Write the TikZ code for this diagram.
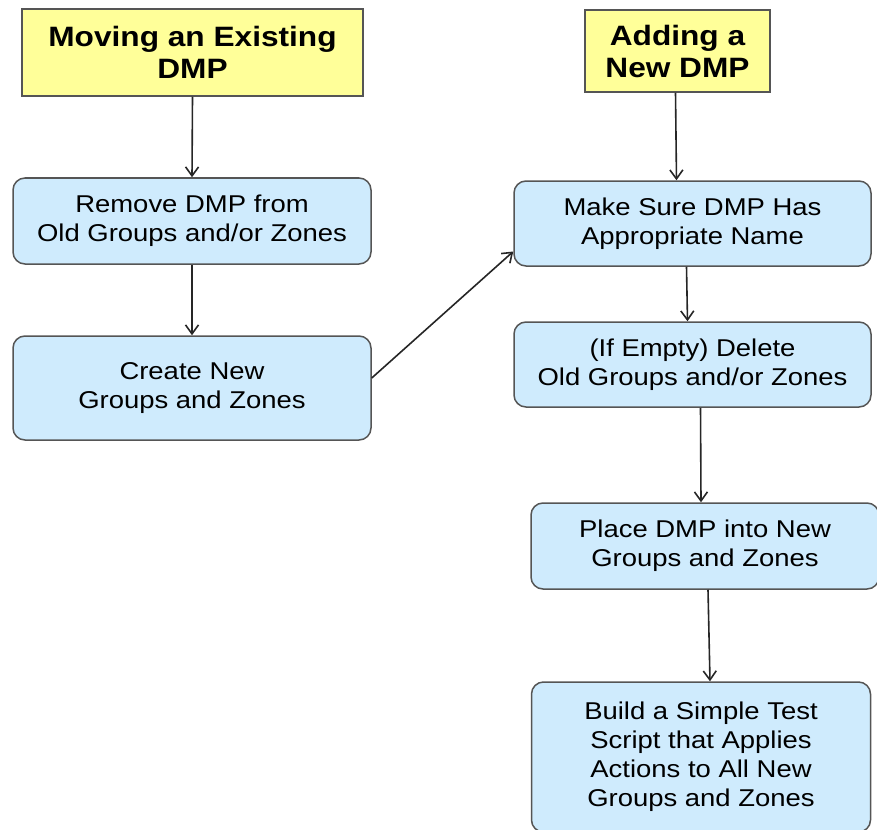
\documentclass[tikz,border=0pt]{standalone}
\usepackage{fontspec}
\setmainfont{Liberation Sans}
\newfontfamily\widefont[FakeStretch=1.13]{Liberation Sans}
\usetikzlibrary{arrows.meta}
\definecolor{titleyellow}{HTML}{FFFF99}
\definecolor{stepblue}{HTML}{CFEBFD}
\definecolor{edgegray}{HTML}{555555}
\begin{document}
\begin{tikzpicture}[x=1pt,y=-1pt,
  title/.style={draw=edgegray,fill=titleyellow,line width=1.5pt,inner sep=0pt,
    align=center,font=\widefont\fontsize{28}{32}\selectfont\bfseries},
  stepbox/.style={draw=edgegray,fill=stepblue,line width=1.5pt,rounded corners=12pt,
    inner sep=0pt,align=center,font=\widefont\fontsize{24.3}{29}\selectfont},
  flow/.style={-{Straight Barb[length=9pt,width=13pt]},line width=1.6pt,black!85}]
\useasboundingbox (0,0) rectangle (877,829);
% Left column: moving an existing DMP
\node[title,minimum width=341pt,minimum height=87pt] (moving) at (192.5,52.5) {Moving an Existing\\DMP};
\node[stepbox,minimum width=358pt,minimum height=86pt] (remove) at (192,221) {Remove DMP from\\Old Groups and/or Zones};
\node[stepbox,minimum width=358pt,minimum height=104pt] (create) at (192,388) {Create New\\Groups and Zones};
% Right column: adding a new DMP
\node[title,minimum width=185pt,minimum height=82pt] (adding) at (677.5,51) {Adding a\\New DMP};
\node[stepbox,minimum width=357pt,minimum height=85pt] (name) at (692.5,223.5) {Make Sure DMP Has\\Appropriate Name};
\node[stepbox,minimum width=357pt,minimum height=85pt] (delete) at (692.5,364.5) {(If Empty) Delete\\Old Groups and/or Zones};
\node[stepbox,minimum width=348pt,minimum height=86pt] (place) at (705,546) {Place DMP into New\\Groups and Zones};
\node[stepbox,minimum width=339pt,minimum height=150pt] (build) at (701,757) {Build a Simple Test\\Script that Applies\\Actions to All New\\Groups and Zones};
% Connectors
\draw[flow] (moving.south) -- (remove.north);
\draw[flow] (remove.south) -- (create.north);
\draw[flow] ([yshift=10pt]create.east) -- ([yshift=-28pt]name.west);
\draw[flow] ([xshift=-2pt]adding.south) -- ([xshift=-16pt]name.north);
\draw[flow] ([xshift=-6pt]name.south) -- ([xshift=-5pt]delete.north);
\draw[flow] ([xshift=8pt]delete.south) -- ([xshift=-4pt]place.north);
\draw[flow] ([xshift=3pt]place.south) -- ([xshift=9pt]build.north);
\end{tikzpicture}
\end{document}
